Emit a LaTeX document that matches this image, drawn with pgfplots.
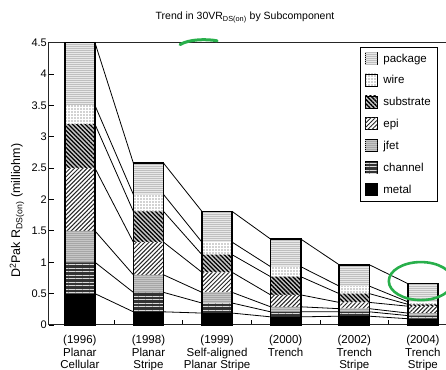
\documentclass[border=0pt]{standalone}
\usepackage{fontspec}
\setmainfont{Liberation Sans}
\usepackage{pgfplots}
\pgfplotsset{compat=1.18}
\usepackage{pgfplotstable}
\usetikzlibrary{patterns.meta}

\definecolor{annot}{RGB}{40,175,75}

% segment heights (milliohm), bottom to top
\pgfplotstableread{
x metal channel jfet epi substrate wire package
0 0.50 0.50 0.50 1.00 0.70 0.30 1.00
1 0.21 0.31 0.28 0.52 0.49 0.27 0.50
2 0.19 0.16 0.17 0.32 0.28 0.20 0.49
3 0.13 0.08 0.08 0.19 0.29 0.16 0.44
4 0.14 0.07 0.05 0.10 0.14 0.12 0.34
5 0.10 0.05 0.04 0.11 0.03 0.04 0.29
}\segs

% the axis is 3pt wider than the page; its right spine falls outside the page
\pgfplotsset{
  common/.style={
    scale only axis, width=400pt, height=282.3pt,
    xmin=-0.45, xmax=5.381, ymin=0, ymax=4.5,
  },
}

\begin{document}
\begin{tikzpicture}
\begin{axis}[common,
  ybar stacked, bar width=0.44,
  axis line style={line width=1pt, black!85},
  xtick={0.5,1.5,2.5,3.5,4.5}, xticklabels={},
  xtick pos=left, ytick pos=left,
  extra x ticks={0,1,2,3,4,5},
  extra x tick labels={{(1996)\\Planar\\Cellular},{(1998)\\Planar\\Stripe},{(1999)\\Self-aligned\\Planar Stripe},{(2000)\\Trench},{(2002)\\Trench\\Stripe},{(2004)\\Trench\\Stripe}},
  extra x tick style={major tick length=0pt},
  xticklabel style={align=center, font=\fontsize{11.5}{12.5}\selectfont, inner sep=2pt, yshift=-8pt},
  ytick={0,0.5,1,1.5,2,2.5,3,3.5,4,4.5},
  yticklabels={0,0.5,1,1.5,2,2.5,3,3.5,4,4.5},
  major tick length=5pt,
  tick style={black, line width=0.8pt},
  yticklabel style={font=\fontsize{11}{13}\selectfont, anchor=east, inner sep=2pt},
  ylabel={D\textsuperscript{2}Pak R\textsubscript{DS(on)} (milliohm)},
  every axis y label/.style={at={(rel axis cs:0,0.405)}, rotate=90, anchor=center, yshift=32pt, font=\fontsize{12.5}{14}\selectfont},
  title={Trend in 30VR\textsubscript{DS(on)} by Subcomponent},
  every axis title/.style={at={(0.49,1)}, anchor=center, yshift=25pt, font=\fontsize{10.5}{12}\selectfont},
  legend style={at={(rel axis cs:0.9725,0.985)}, anchor=north east, draw=black, line width=0.7pt,
    font=\fontsize{11.5}{13}\selectfont, row sep=8pt, inner xsep=5pt, inner ysep=4.5pt,
    cells={anchor=west}, /tikz/every odd column/.append style={column sep=4pt}},
  legend image code/.code={\draw[#1, draw=black, line width=0.4pt] (0cm,-0.19cm) rectangle (0.42cm,0.23cm);},
  reverse legend,
]
\addplot[fill=black, draw=none] table[x=x, y=metal]{\segs};
\addlegendentry{metal}
\addplot[fill=black!80, draw=none, postaction={pattern={Lines[angle=0,distance=3.5pt,line width=1pt]}, pattern color=white!85!black}] table[x=x, y=channel]{\segs};
\addlegendentry{channel}
\addplot[fill=gray!70, draw=none, postaction={pattern={Lines[angle=0,distance=2pt,line width=0.5pt]}, pattern color=gray!45}] table[x=x, y=jfet]{\segs};
\addlegendentry{jfet}
\addplot[fill=white, draw=none, postaction={pattern={Lines[angle=45,distance=3pt,line width=1pt]}, pattern color=black!85}] table[x=x, y=epi]{\segs};
\addlegendentry{epi}
\addplot[fill=gray!45, draw=none, postaction={pattern={Lines[angle=-45,distance=3pt,line width=1.3pt]}, pattern color=black}] table[x=x, y=substrate]{\segs};
\addlegendentry{substrate}
\addplot[fill=white, draw=none, postaction={pattern={Dots[distance=3pt,radius=0.65pt]}, pattern color=black!75}] table[x=x, y=wire]{\segs};
\addlegendentry{wire}
\addplot[fill=gray!18, draw=none, postaction={pattern={Lines[angle=0,distance=2pt,line width=0.5pt]}, pattern color=gray!50}] table[x=x, y=package]{\segs};
\addlegendentry{package}
\end{axis}

\begin{axis}[common, hide axis, clip=false]
% bar outlines (totals)
\addplot[ybar, bar width=0.44, fill=none, draw=black, line width=1.6pt]
  coordinates {(0,4.50) (1,2.58) (2,1.81) (3,1.37) (4,0.96) (5,0.66)};
% connecting lines between segment tops
\addplot[black, line width=0.8pt, mark=none, unbounded coords=jump] coordinates {
 (0.22,0.50) (0.78,0.21) (1,nan) (1.22,0.21) (1.78,0.19) (2,nan) (2.22,0.19) (2.78,0.13) (3,nan) (3.22,0.13) (3.78,0.14) (4,nan) (4.22,0.14) (4.78,0.10)};
\addplot[black, line width=0.8pt, mark=none, unbounded coords=jump] coordinates {
 (0.22,1.00) (0.78,0.52) (1,nan) (1.22,0.52) (1.78,0.35) (2,nan) (2.22,0.35) (2.78,0.21) (3,nan) (3.22,0.21) (3.78,0.21) (4,nan) (4.22,0.21) (4.78,0.15)};
\addplot[black, line width=0.8pt, mark=none, unbounded coords=jump] coordinates {
 (0.22,1.50) (0.78,0.80) (1,nan) (1.22,0.80) (1.78,0.52) (2,nan) (2.22,0.52) (2.78,0.29) (3,nan) (3.22,0.29) (3.78,0.26) (4,nan) (4.22,0.26) (4.78,0.19)};
\addplot[black, line width=0.8pt, mark=none, unbounded coords=jump] coordinates {
 (0.22,2.50) (0.78,1.32) (1,nan) (1.22,1.32) (1.78,0.84) (2,nan) (2.22,0.84) (2.78,0.48) (3,nan) (3.22,0.48) (3.78,0.36) (4,nan) (4.22,0.36) (4.78,0.30)};
\addplot[black, line width=0.8pt, mark=none, unbounded coords=jump] coordinates {
 (0.22,3.20) (0.78,1.81) (1,nan) (1.22,1.81) (1.78,1.12) (2,nan) (2.22,1.12) (2.78,0.77) (3,nan) (3.22,0.77) (3.78,0.50) (4,nan) (4.22,0.50) (4.78,0.33)};
\addplot[black, line width=0.8pt, mark=none, unbounded coords=jump] coordinates {
 (0.22,3.50) (0.78,2.08) (1,nan) (1.22,2.08) (1.78,1.32) (2,nan) (2.22,1.32) (2.78,0.93) (3,nan) (3.22,0.93) (3.78,0.62) (4,nan) (4.22,0.62) (4.78,0.37)};
\addplot[black, line width=0.8pt, mark=none, unbounded coords=jump] coordinates {
 (0.22,4.50) (0.78,2.58) (1,nan) (1.22,2.58) (1.78,1.81) (2,nan) (2.22,1.81) (2.78,1.37) (3,nan) (3.22,1.37) (3.78,0.96) (4,nan) (4.22,0.96) (4.78,0.66)};
% hand-drawn green annotations
\draw[annot, line width=2.6pt] (axis cs:4.97,0.70) ellipse [x radius=32pt, y radius=19pt];
\draw[annot, line width=3pt, line cap=round] (axis cs:1.46,4.47) .. controls (axis cs:1.6,4.56) and (axis cs:1.85,4.56) .. (axis cs:2.0,4.53);
\end{axis}
\pgfresetboundingbox
\path[use as bounding box] ([xshift=-49pt,yshift=-45pt]current axis.south west) rectangle ([xshift=-3pt,yshift=42.7pt]current axis.north east);
\end{tikzpicture}
\end{document}
